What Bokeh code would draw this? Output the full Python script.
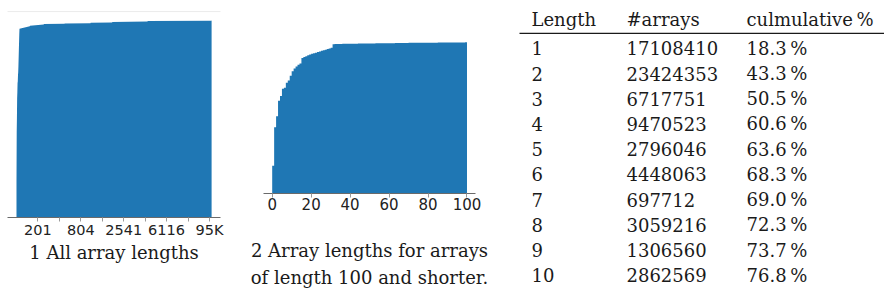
from bokeh.plotting import figure
from bokeh.layouts import row
from bokeh.models import Range1d, FixedTicker, ColumnDataSource
from bokeh.core.properties import value
from bokeh.embed import file_html
from bokeh.resources import INLINE

# ---------------- data ----------------
# table
lengths = [1, 2, 3, 4, 5, 6, 7, 8, 9, 10]
num_arrays = [17108410, 23424353, 6717751, 9470523, 2796046,
              4448063, 697712, 3059216, 1306560, 2862569]
cum_pct = [18.3, 43.3, 50.5, 60.6, 63.6, 68.3, 69.0, 72.3, 73.7, 76.8]
table_header = ["Length", "#arrays", "culmulative\u2009%"]

# chart 1: rank of distinct array length vs cumulative % of arrays
rank_all = [0, 1, 2, 3, 4, 5, 6, 7, 8, 9, 11, 13, 14, 62, 63, 127, 128,
            224, 225, 345, 346, 446, 447, 611, 612, 908, 910]
cum_all = [18.3, 43.3, 50.5, 60.6, 63.6, 68.3, 69.0, 72.3, 73.7, 76.8, 85.0,
           93.0, 95.8, 97.0, 97.3, 98.0, 98.2, 98.3, 98.5, 98.6, 98.8,
           99.0, 99.2, 99.5, 99.7, 99.85, 100.0]
tick_ranks = [100, 200, 300, 400, 500, 600, 700, 800, 900]
tick_labels = ["201", "", "804", "", "2541", "", "6116", "", "95K"]

# chart 2: cumulative % for arrays of length 1..100
short_lengths = list(range(1, 101))
cum_short = [18.6, 44.0, 51.3, 61.5, 64.6, 69.3, 70.0, 73.4, 74.8, 78.0,
             81.0, 82.8, 84.0, 85.2, 86.0, 89.6, 90.3, 90.9, 91.5, 92.0,
             92.4, 92.8, 93.2, 93.6, 94.0, 94.4, 94.8, 95.2, 95.6, 96.0, 96.5,
             98.8,
             98.85, 98.9, 98.9, 98.95, 99.0, 99.0, 99.05, 99.1,
             99.1, 99.1, 99.15, 99.15, 99.2, 99.2, 99.2, 99.25, 99.25, 99.3,
             99.3, 99.3, 99.3, 99.35, 99.35, 99.35, 99.4, 99.4, 99.4, 99.4,
             99.45, 99.45, 99.45, 99.6, 99.6, 99.6, 99.65, 99.65, 99.65, 99.65,
             99.7, 99.7, 99.7, 99.7, 99.75, 99.75, 99.75, 99.75, 99.75, 99.8,
             99.8, 99.8, 99.8, 99.8, 99.8, 99.85, 99.85, 99.85, 99.85, 99.85,
             99.9, 99.9, 99.9, 99.9, 99.9, 99.95, 99.95, 99.95, 99.95, 100.0]
short_ticks = [0, 20, 40, 60, 80, 100]

BLUE = "#1f77b4"
SERIF = "DejaVu Serif"
SANS = "DejaVu Sans"
H = 296


def base_fig(width, xr, yr):
    p = figure(width=width, height=H, output_backend="svg",
               toolbar_location=None, title=None, x_range=xr, y_range=yr,
               min_border=0)
    p.yaxis.visible = False
    p.grid.visible = False
    p.outline_line_color = None
    return p


def style_axis(ax, font_size):
    ax.axis_line_color = "#6a6a6a"
    ax.major_tick_line_color = "#9a9a9a"
    ax.minor_tick_line_color = None
    ax.major_tick_out = 4
    ax.major_tick_in = 0
    ax.major_label_text_font = SANS
    ax.major_label_text_font_size = font_size
    ax.major_label_text_color = "#222222"
    ax.major_label_standoff = 0
    ax.axis_label_text_font = SERIF
    ax.axis_label_text_font_size = "18px"
    ax.axis_label_text_font_style = "normal"
    ax.axis_label_text_color = "#1a1a1a"
    ax.fixed_location = 0


# ---------------- chart 1 ----------------
p1 = base_fig(240, Range1d(-74.6, 1044.8), Range1d(-39.9, 110.1))
p1.varea(x=rank_all, y1=[0] * len(rank_all), y2=cum_all, fill_color=BLUE)
bounds1 = (-42, 951.5)
p1.segment(x0=[bounds1[0]], y0=[104.5], x1=[bounds1[1]], y1=[104.5],
           line_color="#ececec", line_width=1)
ax1 = p1.xaxis[0]
ax1.ticker = FixedTicker(ticks=tick_ranks)
ax1.major_label_overrides = dict(zip(tick_ranks, tick_labels))
ax1.bounds = bounds1
ax1.axis_label = "1 All array lengths"
style_axis(ax1, "14.5px")
ax1.axis_label_standoff = 1

# ---------------- chart 2 ----------------
xs2, ys2 = [], []
for L, v in zip(short_lengths, cum_short):
    xs2 += [L - 1, L]
    ys2 += [v, v]

p2 = base_fig(260, Range1d(-16.27, 117.2), Range1d(-67.76, 127.63))
p2.varea(x=xs2, y1=[0] * len(xs2), y2=ys2, fill_color=BLUE)
ax2 = p2.xaxis[0]
ax2.ticker = FixedTicker(ticks=short_ticks)
ax2.bounds = (-4.47, 104.36)
ax2.axis_label = "2 Array lengths for arrays\nof length 100 and shorter."
style_axis(ax2, "15px")
ax2.axis_label_standoff = 27
ax2.axis_label_text_line_height = 1.3

# ---------------- table ----------------
p3 = base_fig(384, Range1d(0, 384), Range1d(10.842, -0.897))
p3.xaxis.visible = False

col_x = [31, 126, 246]
header_y = -0.146
rule_y = 0.407

hdr = ColumnDataSource(dict(x=col_x, y=[header_y] * 3, t=table_header))
p3.text(x="x", y="y", text="t", source=hdr, text_font=value(SERIF),
        text_font_size="18px", text_baseline="middle", text_color="#1a1a1a")
p3.segment(x0=[19], y0=[rule_y], x1=[384], y1=[rule_y], line_color="#1a1a1a",
           line_width=1.2)

rows_x, rows_y, rows_t = [], [], []
for L, n, c in zip(lengths, num_arrays, cum_pct):
    for cx, t in zip(col_x, [str(L), str(n), f"{c:.1f}\u2009%"]):
        rows_x.append(cx)
        rows_y.append(L)
        rows_t.append(t)
body = ColumnDataSource(dict(x=rows_x, y=rows_y, t=rows_t))
p3.text(x="x", y="y", text="t", source=body, text_font=value(SERIF),
        text_font_size="18px", text_baseline="middle", text_color="#1a1a1a")

layout = row(p1, p2, p3)
open("out.html", "w").write(file_html(layout, INLINE))
